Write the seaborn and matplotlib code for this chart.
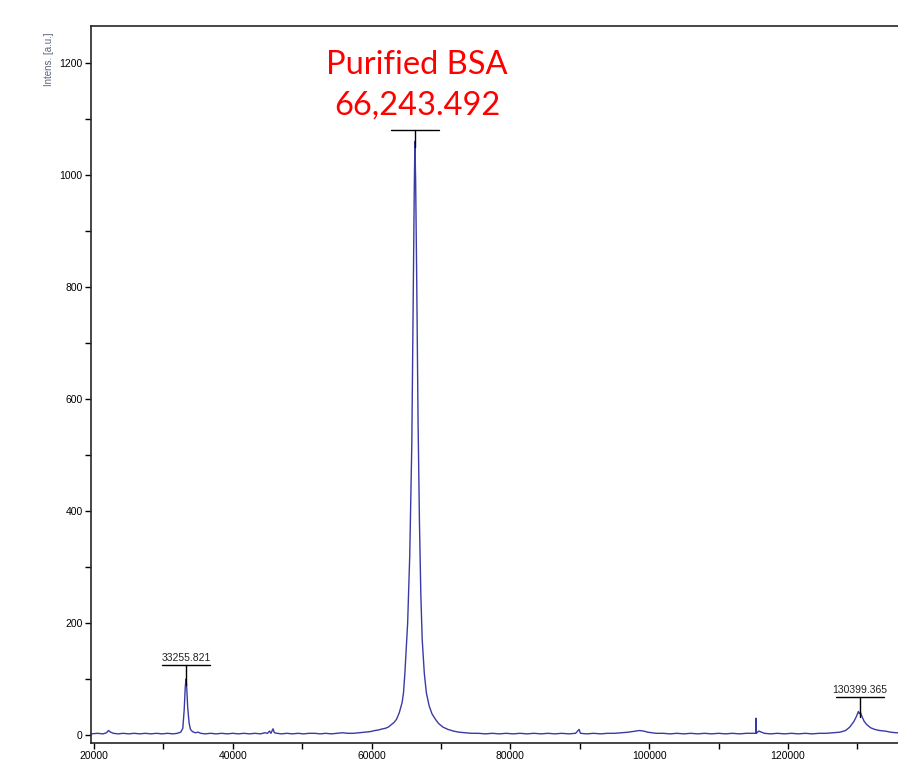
import matplotlib
matplotlib.use("Agg")
import matplotlib.pyplot as plt
import pandas as pd
import seaborn as sns
from matplotlib.ticker import MultipleLocator

# spectrum (m/z, intensity)
mass = [19600, 20500, 21300, 21800, 22100, 22400, 22800, 23500, 24200, 25000,
        25800, 26600, 27400, 28200, 29000, 29800, 30600, 31400, 32000, 32500,
        32800, 33000, 33150, 33255, 33350, 33500, 33700, 33900, 34200, 34600,
        35000, 35400, 36000, 36800, 37600, 38400, 39200, 40000, 40800, 41600,
        42400, 43200, 44000, 44600, 45000, 45300, 45500, 45800, 46000, 46400,
        47000, 47800, 48600, 49400, 50200, 51000, 51800, 52600, 53400, 54200,
        55000, 55800, 56600, 57400, 58200, 59000, 59800, 60500, 61000, 61600,
        62000, 62400, 62800, 63200, 63600, 64000, 64400, 64600, 64800, 65200,
        65500, 65800, 66000, 66150, 66243, 66350, 66500, 66700, 66900, 67100,
        67300, 67600, 67900, 68300, 68700, 69200, 69700, 70300, 71000, 71800,
        72600, 73500, 74400, 75400, 76400, 77400, 78400, 79400, 80400, 81400,
        82400, 83400, 84400, 85400, 86400, 87400, 88400, 89400, 89900, 90100,
        91000, 92000, 93000, 94000, 95000, 96000, 97000, 98000, 98600, 99200,
        99800, 100400, 101000, 102000, 103000, 104000, 105000, 106000, 107000, 108000,
        109000, 110000, 111000, 112000, 113000, 114000, 115000, 115350, 115400, 115450,
        115800, 116200, 116600, 117500, 118500, 119500, 120500, 121500, 122500, 123500,
        124500, 125500, 126500, 127500, 128300, 128900, 129500, 129900, 130150, 130300,
        130450, 130700, 131000, 131400, 131900, 132500, 133200, 134000, 134800, 135600,
        136000]
intens = [2, 3, 2, 4, 8, 5, 3, 2, 3, 2,
          3, 2, 3, 2, 3, 2, 3, 2, 3, 5,
          12, 45, 85, 100, 88, 50, 22, 10, 6, 4,
          5, 3, 2, 3, 2, 3, 2, 3, 2, 3,
          2, 3, 2, 4, 3, 7, 3, 11, 4, 3,
          2, 3, 2, 3, 2, 3, 3, 2, 3, 2,
          3, 4, 3, 3, 4, 5, 6, 8, 9, 11,
          12, 14, 18, 22, 28, 40, 58, 75, 110, 200,
          320, 520, 780, 970, 1060, 990, 820, 560, 380, 250,
          170, 110, 75, 52, 38, 28, 20, 14, 10, 7,
          5, 4, 3, 3, 2, 3, 2, 3, 2, 3,
          2, 3, 2, 3, 2, 3, 2, 3, 10, 3,
          2, 3, 2, 3, 3, 4, 5, 7, 8, 7,
          5, 4, 3, 3, 2, 3, 2, 3, 2, 3,
          2, 3, 2, 3, 2, 3, 3, 3, 30, 3,
          7, 5, 3, 2, 3, 2, 3, 2, 3, 2,
          3, 3, 4, 5, 8, 14, 24, 34, 42, 38,
          40, 32, 24, 18, 13, 10, 8, 7, 5, 4,
          4]

# labelled peaks
peak_mass = [33255.821, 66243.492, 130399.365]
peak_top = [100, 1060, 42]
peak_text = ["33255.821", "", "130399.365"]

df = pd.DataFrame({"mz": mass, "intens": intens})

sns.set_style("ticks")
plt.rcParams["font.family"] = ["Liberation Sans", "DejaVu Sans"]

fig = plt.figure(figsize=(8.98, 7.66), dpi=100)
ax = fig.add_axes([91 / 898, 1 - 743 / 766, 1 - 91 / 898, (743 - 26) / 766])

sns.lineplot(data=df, x="mz", y="intens", ax=ax, color="#3a3aa6", linewidth=1.0)

ax.set_xlim(19570, 135860)
ax.set_ylim(-14.3, 1266)
ax.xaxis.set_major_locator(MultipleLocator(20000))
ax.xaxis.set_minor_locator(MultipleLocator(10000))
ax.yaxis.set_major_locator(MultipleLocator(200))
ax.yaxis.set_minor_locator(MultipleLocator(100))
ax.tick_params(which="both", length=4, width=1, labelsize=7.5, colors="black", pad=2)
ax.spines["right"].set_visible(False)
for s in ["left", "top", "bottom"]:
    ax.spines[s].set_linewidth(1.2)

ax.set_xlabel("")
ax.set_ylabel("Intens. [a.u.]", fontsize=7, color="#5a6480")
ax.yaxis.set_label_coords(-0.046, 0.953)

# peak markers
for m, h, t in zip(peak_mass, peak_top, peak_text):
    bar_y = h + 20 if h > 500 else h + 25
    ax.plot([m - 3500, m + 3500], [bar_y, bar_y], color="black", linewidth=1)
    ax.plot([m, m], [bar_y, h - 10], color="black", linewidth=1)
    if t:
        ax.text(m, bar_y + 4, t, ha="center", va="bottom", fontsize=7.5, color="#222222")

ax.text(peak_mass[1] + 300, 1098, "Purified BSA\n66,243.492", ha="center", va="bottom",
        fontsize=23.5, color="#ff0000", family=["Lato", "DejaVu Sans"], linespacing=1.4)

fig.savefig("out.png", dpi=100)
